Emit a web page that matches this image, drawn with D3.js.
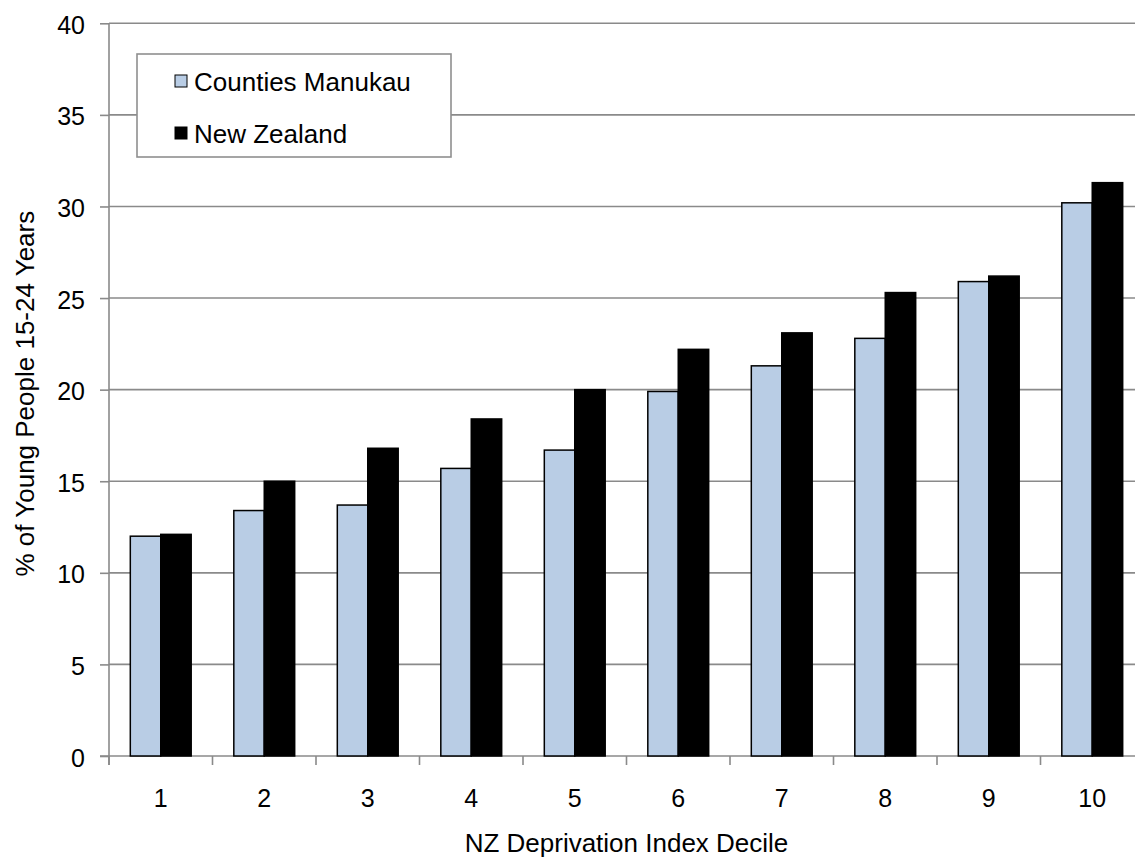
<!DOCTYPE html>
<html>
<head>
<meta charset="utf-8">
<script src="https://cdn.jsdelivr.net/npm/d3@7"></script>
<style>
  html, body { margin: 0; padding: 0; background: #fff; }
  svg { display: block; font-family: "Liberation Sans", Arial, sans-serif; }
</style>
</head>
<body>
<svg id="chart" width="1135" height="859"></svg>
<script>
const categories = ["1", "2", "3", "4", "5", "6", "7", "8", "9", "10"];
const seriesNames = ["Counties Manukau", "New Zealand"];
const countiesManukau = [12.0, 13.4, 13.7, 15.7, 16.7, 19.9, 21.3, 22.8, 25.9, 30.2];
const newZealand = [12.1, 15.0, 16.8, 18.4, 20.0, 22.2, 23.1, 25.3, 26.2, 31.3];
const yTicks = [0, 5, 10, 15, 20, 25, 30, 35, 40];
const seriesColors = ["#B9CDE5", "#000000"];
const yTitle = "% of Young People 15-24 Years";
const xTitle = "NZ Deprivation Index Decile";

(function () {
const svg = d3.select("#chart");
const pLeft = 109, pRight = 1144, pTop = 23.3, pBottom = 756;

const x0 = d3.scaleBand().domain(categories).range([pLeft, pRight]).padding(0);
const x1 = d3.scaleBand().domain(seriesNames).range([0, x0.bandwidth()]).paddingInner(0).paddingOuter(0.7);
const y = d3.scaleLinear().domain([0, 40]).range([pBottom, pTop]);

const gridColor = "#8a8a8a";

// gridlines
svg.append("g").selectAll("line").data(yTicks.filter(t => t > 0)).join("line")
  .attr("x1", pLeft).attr("x2", pRight)
  .attr("y1", d => y(d)).attr("y2", d => y(d))
  .attr("stroke", gridColor).attr("stroke-width", 1.6);

// y axis
const yAxis = svg.append("g").attr("transform", `translate(${pLeft},0)`)
  .call(d3.axisLeft(y).tickValues(yTicks).tickSize(9).tickPadding(15));
yAxis.select(".domain").attr("stroke", gridColor).attr("stroke-width", 1.6)
  .attr("d", `M0,${pTop}V${pBottom + 9}`);
yAxis.selectAll(".tick line").attr("stroke", gridColor).attr("stroke-width", 1.6);
yAxis.selectAll(".tick text").attr("font-size", 25).attr("fill", "#000")
  .attr("font-family", "Liberation Sans, Arial, sans-serif").attr("dy", "0.4em");

// x axis
const xAxis = svg.append("g").attr("transform", `translate(0,${pBottom})`)
  .call(d3.axisBottom(x0).tickSize(0).tickPadding(0));
xAxis.select(".domain").attr("stroke", gridColor).attr("stroke-width", 1.6)
  .attr("d", `M${pLeft - 9},0H${pRight}`);
xAxis.selectAll(".tick text").attr("font-size", 25).attr("fill", "#000")
  .attr("font-family", "Liberation Sans, Arial, sans-serif")
  .attr("y", 51).attr("dy", 0);
// category boundary ticks
svg.append("g").selectAll("line").data(categories).join("line")
  .attr("x1", d => x0(d)).attr("x2", d => x0(d))
  .attr("y1", pBottom).attr("y2", pBottom + 9)
  .attr("stroke", gridColor).attr("stroke-width", 1.6);

// bars
const rows = categories.map((c, i) => ({ cat: c, values: [countiesManukau[i], newZealand[i]] }));
const groups = svg.append("g").selectAll("g").data(rows).join("g")
  .attr("transform", d => `translate(${x0(d.cat)},0)`);
groups.selectAll("rect").data(d => d.values.map((v, j) => ({ name: seriesNames[j], v, j })))
  .join("rect")
  .attr("x", d => x1(d.name))
  .attr("width", x1.bandwidth())
  .attr("y", d => y(d.v))
  .attr("height", d => y(0) - y(d.v))
  .attr("fill", d => seriesColors[d.j])
  .attr("stroke", "#000").attr("stroke-width", 1.5);

// legend
const lg = svg.append("g");
lg.append("rect").attr("x", 137).attr("y", 54).attr("width", 314).attr("height", 103)
  .attr("fill", "#fff").attr("stroke", "#8f8f8f").attr("stroke-width", 1.6);
seriesNames.forEach((name, i) => {
  const yy = 81 + i * 52;
  lg.append("rect").attr("x", 175).attr("y", yy - 6).attr("width", 12).attr("height", 12)
    .attr("fill", seriesColors[i]).attr("stroke", "#000").attr("stroke-width", 1);
  lg.append("text").attr("x", 194).attr("y", yy + 10).attr("font-size", 26)
    .attr("fill", "#000").text(name);
});

// axis titles
svg.append("text").attr("x", (pLeft + pRight) / 2).attr("y", 852)
  .attr("text-anchor", "middle").attr("font-size", 26).attr("fill", "#000").text(xTitle);
svg.append("text").attr("transform", `translate(34,${(pTop + pBottom) / 2 + 4}) rotate(-90)`)
  .attr("text-anchor", "middle").attr("font-size", 26).attr("fill", "#000").text(yTitle);
})();
</script>
</body>
</html>
